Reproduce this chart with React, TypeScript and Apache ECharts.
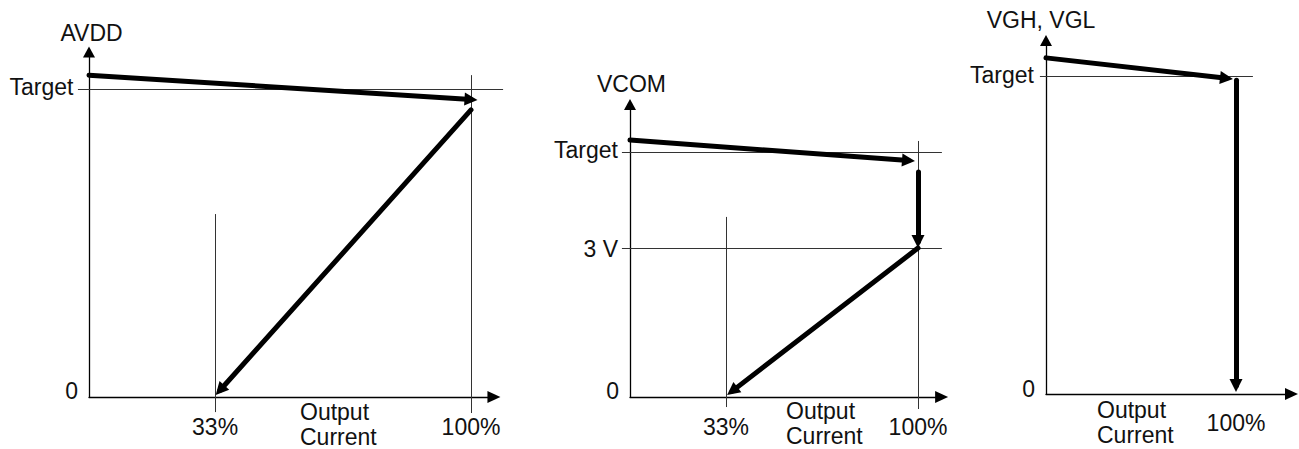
import React, { useEffect, useRef } from 'react';
import * as echarts from 'echarts';

const FONT = '"Liberation Sans", Arial, Helvetica, sans-serif';
const FS = 23;
const TEXT = '#111';
const NAME_LH = 25;

// ---------- Panel 1: AVDD ----------
const avddXTicks = [33, 100];
const avddXLabels = ['33%', '100%'];
const avddYTicks = [0, 100];
const avddYLabels = ['0', 'Target'];
const avddNoLoad = [[0, 104.5], [100, 96.6]];
const avddFoldback = [[100, 93.2], [34.3, 2.2]];
const avddTargetLine = [[-2.9, 100], [108.4, 100]];
const avddFullLoadLine = [[100, 104.5], [100, -5.2]];
const avdd33Line = [[33, 59.4], [33, -4.9]];

// ---------- Panel 2: VCOM ----------
const vcomXTicks = [33.3, 100];
const vcomXLabels = ['33%', '100%'];
const vcomYTicks = [0, 60.8, 100];
const vcomYLabels = ['0', '3 V', 'Target'];
const vcomNoLoad = [[0, 104.9], [96.7, 96.5]];
const vcomDrop = [[100, 91.8], [100, 63.5]];
const vcomFoldback = [[100, 60.8], [35.5, 2.4]];
const vcomTargetLine = [[-2.8, 100], [108.3, 100]];
const vcom3VLine = [[-2.8, 60.8], [108.3, 60.8]];
const vcomFullLoadLine = [[100, 104.5], [100, -4.9]];
const vcom33Line = [[33.3, 73.5], [33.3, -4.1]];

// ---------- Panel 3: VGH, VGL ----------
const vghXTicks = [100];
const vghXLabels = ['100%'];
const vghYTicks = [0, 100];
const vghYLabels = ['0', 'Target'];
const vghNoLoad = [[0, 105.7], [95, 99.3]];
const vghDrop = [[100, 98.7], [100, 2.7]];
const vghTargetLine = [[-3.2, 100], [108.9, 100]];

type Panel = {
  x0: number; y0: number; kx: number; ky: number; xMax: number; yMax: number;
  yName: string; yNameGap: number; yNamePad: number[];
  xNameGap: number; xNamePadTop: number;
  xTicks: number[]; xLabels: string[]; xMargin: number;
  yTicks: number[]; yLabels: string[]; yPads: number[][];
  xArrow: number[]; yArrow: number[];
  thin: number[][][]; thick: number[][][];
};

const panels: Panel[] = [
  {
    x0: 89, y0: 397, kx: 3.82, ky: 3.08, xMax: 106, yMax: 112,
    yName: 'AVDD', yNameGap: 19.5, yNamePad: [0, 0, 0, 5],
    xNameGap: -211, xNamePadTop: 2,
    xTicks: avddXTicks, xLabels: avddXLabels, xMargin: 18,
    yTicks: avddYTicks, yLabels: avddYLabels, yPads: [[0, 0, 13, 0], [0, 4.5, 4, 0]],
    xArrow: [12, 13], yArrow: [12, 11],
    thin: [avddTargetLine, avddFullLoadLine, avdd33Line],
    thick: [avddNoLoad, avddFoldback],
  },
  {
    x0: 630, y0: 397, kx: 2.88, ky: 2.45, xMax: 108.2, yMax: 119.4,
    yName: 'VCOM', yNameGap: 20, yNamePad: [0, 0, 0, 3],
    xNameGap: -156, xNamePadTop: 1,
    xTicks: vcomXTicks, xLabels: vcomXLabels, xMargin: 18,
    yTicks: vcomYTicks, yLabels: vcomYLabels, yPads: [[0, 0, 12, 0], [2, 1, 0, 0], [0, 1, 4, 0]],
    xArrow: [12, 13], yArrow: [12, 11],
    thin: [vcomTargetLine, vcom3VLine, vcomFullLoadLine, vcom33Line],
    thick: [vcomNoLoad, vcomDrop, vcomFoldback],
  },
  {
    x0: 1046, y0: 394, kx: 1.9, ky: 3.18, xMax: 129.2, yMax: 111.2,
    yName: 'VGH, VGL', yNameGap: 20.4, yNamePad: [0, 10, 0, 0],
    xNameGap: -51, xNamePadTop: 3.5,
    xTicks: vghXTicks, xLabels: vghXLabels, xMargin: 17,
    yTicks: vghYTicks, yLabels: vghYLabels, yPads: [[0, 0, 10, 0], [0, 1, 3, 0]],
    xArrow: [12, 13], yArrow: [12, 11],
    thin: [vghTargetLine],
    thick: [vghNoLoad, vghDrop],
  },
];

function labelFormatter(ticks: number[], labels: string[], rich: boolean) {
  return (v: number) => {
    const i = ticks.findIndex((t) => Math.abs(t - v) < 1e-6);
    if (i < 0) return '';
    return rich ? `{s${i}|${labels[i]}}` : labels[i];
  };
}

function buildOption() {
  const grid: any[] = [];
  const xAxis: any[] = [];
  const yAxis: any[] = [];
  const series: any[] = [];
  panels.forEach((p, i) => {
    grid.push({
      left: p.x0,
      top: p.y0 - p.yMax * p.ky,
      width: p.xMax * p.kx,
      height: p.yMax * p.ky,
      containLabel: false,
      outerBoundsMode: 'none',
    });
    xAxis.push({
      type: 'value', gridIndex: i, min: 0, max: p.xMax,
      splitLine: { show: false }, axisTick: { show: false },
      axisLine: {
        show: true, onZero: false,
        symbol: ['none', 'triangle'], symbolSize: p.xArrow,
        lineStyle: { color: '#000', width: 1.3 },
      },
      axisLabel: {
        show: true, customValues: p.xTicks, margin: p.xMargin,
        formatter: labelFormatter(p.xTicks, p.xLabels, false),
        color: TEXT, fontSize: FS, fontFamily: FONT,
      },
      name: '{n|Output}\n{n|Current}',
      nameLocation: 'start',
      nameGap: p.xNameGap,
      nameMoveOverlap: false,
      nameTextStyle: {
        align: 'left', verticalAlign: 'top', padding: [p.xNamePadTop, 0, 0, 0],
        color: TEXT, fontSize: FS, fontFamily: FONT, lineHeight: NAME_LH,
        rich: { n: { color: TEXT, fontSize: FS, fontFamily: FONT, lineHeight: NAME_LH } },
      },
    });
    const rich: any = {};
    p.yPads.forEach((pad, k) => {
      rich['s' + k] = { color: TEXT, fontSize: FS, fontFamily: FONT, padding: pad };
    });
    yAxis.push({
      type: 'value', gridIndex: i, min: 0, max: p.yMax,
      splitLine: { show: false }, axisTick: { show: false },
      axisLine: {
        show: true, onZero: false,
        symbol: ['none', 'triangle'], symbolSize: p.yArrow,
        lineStyle: { color: '#000', width: 1.3 },
      },
      axisLabel: {
        show: true, customValues: p.yTicks, margin: 11,
        formatter: labelFormatter(p.yTicks, p.yLabels, true),
        color: TEXT, fontSize: FS, fontFamily: FONT, rich,
      },
      name: p.yName,
      nameLocation: 'end',
      nameGap: p.yNameGap,
      nameMoveOverlap: false,
      nameTextStyle: {
        align: 'center', verticalAlign: 'middle', padding: p.yNamePad,
        color: TEXT, fontSize: FS, fontFamily: FONT,
      },
    });
    series.push({
      type: 'lines', coordinateSystem: 'cartesian2d', xAxisIndex: i, yAxisIndex: i,
      clip: false, silent: true, z: 2,
      symbol: 'none',
      lineStyle: { color: '#333', width: 1, opacity: 1, curveness: 0 },
      data: p.thin.map((c) => ({ coords: c })),
    });
    series.push({
      type: 'lines', coordinateSystem: 'cartesian2d', xAxisIndex: i, yAxisIndex: i,
      clip: false, silent: true, z: 3,
      symbol: ['none', 'triangle'], symbolSize: [1, [13, 13]],
      lineStyle: { color: '#000', width: 5, opacity: 1, curveness: 0, cap: 'round' },
      data: p.thick.map((c) => ({ coords: c })),
    });
  });
  return { animation: false, grid, xAxis, yAxis, series, tooltip: { show: false } };
}

export default function App() {
  const ref = useRef<HTMLDivElement>(null);
  useEffect(() => {
    if (!ref.current) return;
    const chart = echarts.init(ref.current, undefined, { renderer: 'svg' });
    chart.setOption(buildOption() as any);
    return () => chart.dispose();
  }, []);
  return (
    <div style={{ position: 'fixed', left: 0, top: 0, width: 1299, height: 449, background: '#fff' }}>
      <div ref={ref} style={{ width: 1299, height: 449 }} />
    </div>
  );
}
